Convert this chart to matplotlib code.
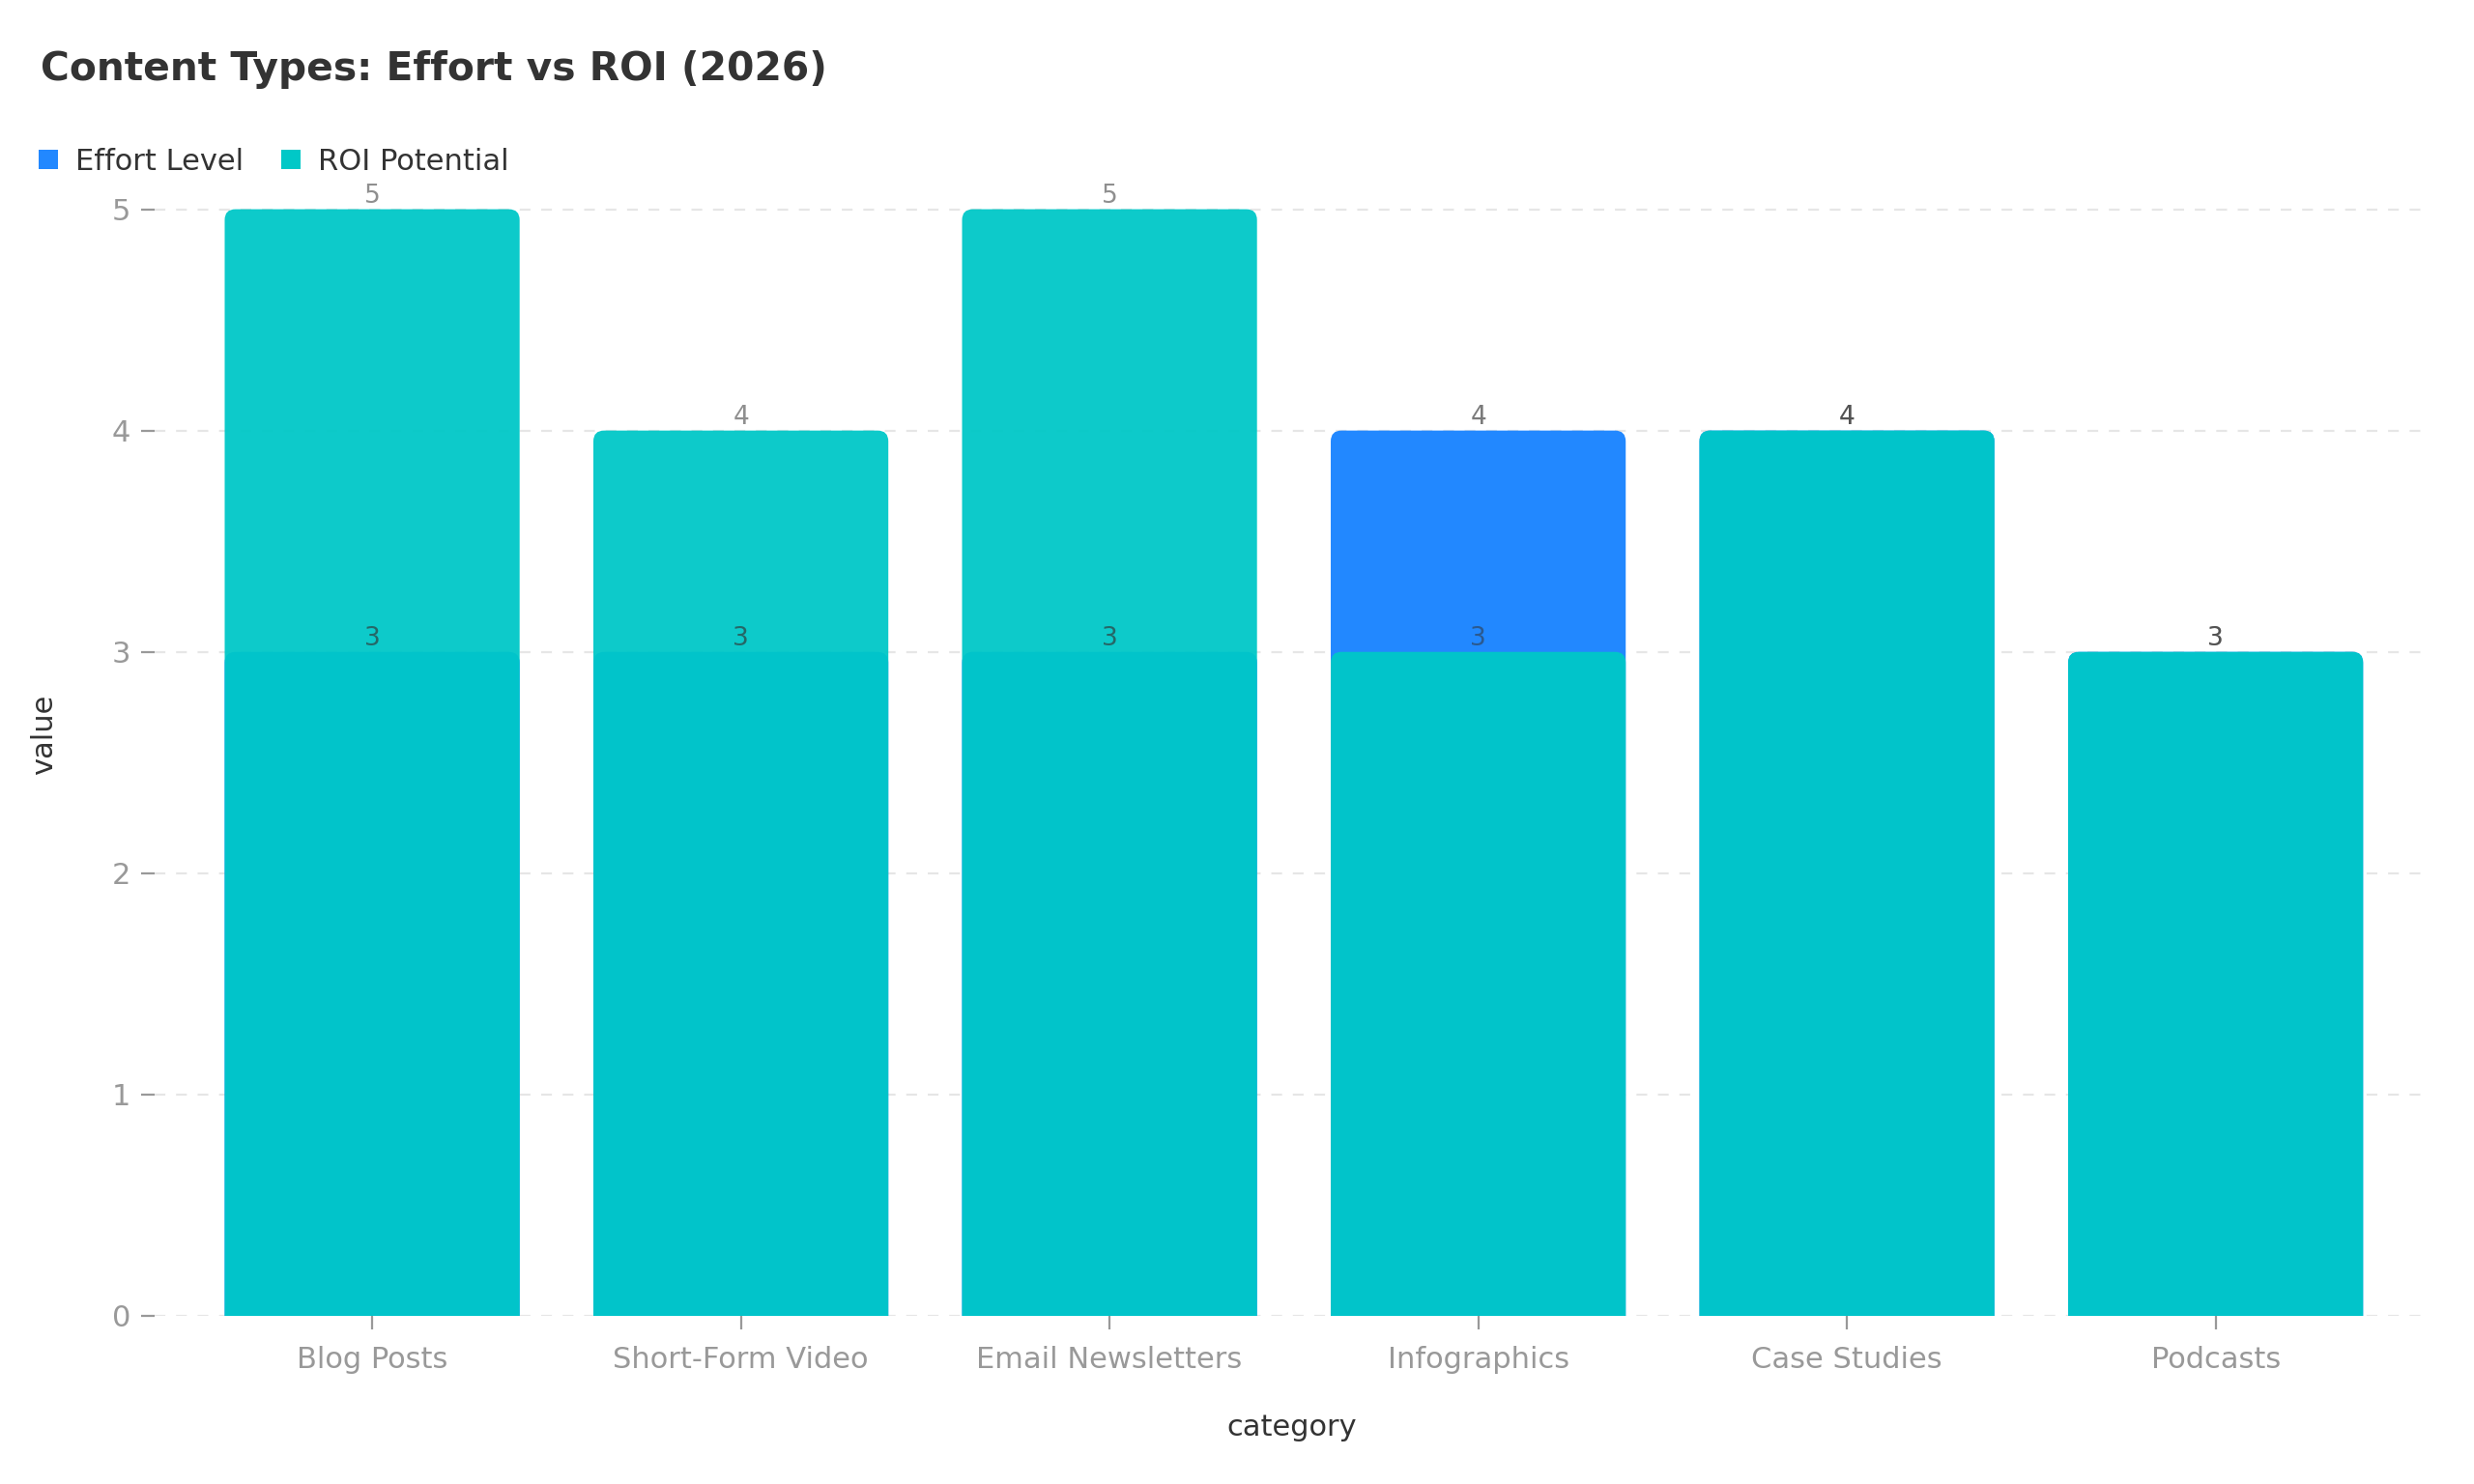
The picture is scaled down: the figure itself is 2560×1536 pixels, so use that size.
import matplotlib
matplotlib.use("Agg")
import matplotlib.pyplot as plt
from matplotlib.patches import FancyBboxPatch
import numpy as np

plt.rcParams['font.family'] = ['DejaVu Sans']

title = "Content Types: Effort vs ROI (2026)"
categories = ["Blog Posts", "Short-Form Video", "Email Newsletters",
              "Infographics", "Case Studies", "Podcasts"]
effort = [3, 3, 3, 4, 4, 3]
roi = [5, 4, 5, 3, 4, 3]
series_names = ["Effort Level", "ROI Potential"]
colors = ["#2288FF", "#00C8C7"]

fig = plt.figure(figsize=(12.8, 7.68), dpi=200)
ax = fig.add_axes([0.0625, 0.1133, 0.9195, 0.783])

x = np.arange(len(categories))
width = 0.8


def rounded(bars, color, alpha, z):
    for rect in bars:
        rect.set_visible(False)
        bx, bw, bh = rect.get_x(), rect.get_width(), rect.get_height()
        p = FancyBboxPatch((bx, -0.2), bw, bh + 0.2,
                           boxstyle="round,pad=0,rounding_size=0.029",
                           mutation_aspect=1.664, facecolor=color,
                           edgecolor="none", alpha=alpha, zorder=z)
        ax.add_patch(p)


b1 = ax.bar(x, effort, width, color=colors[0], label=series_names[0], zorder=2)
rounded(b1, colors[0], 1.0, 2)
b2 = ax.bar(x, roi, width, color=colors[1], label=series_names[1], zorder=3)
rounded(b2, colors[1], 0.95, 3)

for vals, a in ((effort, 0.65), (roi, 0.55)):
    for xi, v in zip(x, vals):
        ax.text(xi, v + 0.028, f"{v}", ha="center", va="baseline", fontsize=9.5,
                color="#333333", alpha=a, zorder=5)

ax.set_xlim(-0.59, 5.58)
ax.set_ylim(0, 5.25)
ax.set_xticks(x)
ax.set_xticklabels(categories)
ax.set_yticks([0, 1, 2, 3, 4, 5])
ax.tick_params(axis="both", colors="#999999", labelsize=11, length=5, width=0.8)
ax.tick_params(axis="x", pad=6)
ax.tick_params(axis="y", pad=4)
for s in ax.spines.values():
    s.set_visible(False)
ax.yaxis.grid(True, linestyle=(0, (5, 5)), color="#e6e6e6", linewidth=0.8, zorder=0)
ax.set_axisbelow(True)

ax.set_xlabel("category", fontsize=11, color="#333333", labelpad=15)
ax.set_ylabel("value", fontsize=11, color="#333333", labelpad=20)

fig.text(0.0165, 0.953, title, fontsize=14.7, fontweight="bold", color="#333333",
         ha="left", va="center")

leg = fig.legend(handles=[b1.patches[0], b2.patches[0]], labels=series_names,
                 loc="center left", bbox_to_anchor=(0.005, 0.891), ncol=2, frameon=False,
                 fontsize=11, handlelength=0.65, handleheight=0.65, handletextpad=0.6,
                 columnspacing=1.25, labelcolor="#333333")
for h, c in zip(leg.legend_handles, colors):
    h.set_visible(True)
    h.set_facecolor(c)
    h.set_alpha(1)

fig.savefig("out.png", dpi=200, facecolor="white")
